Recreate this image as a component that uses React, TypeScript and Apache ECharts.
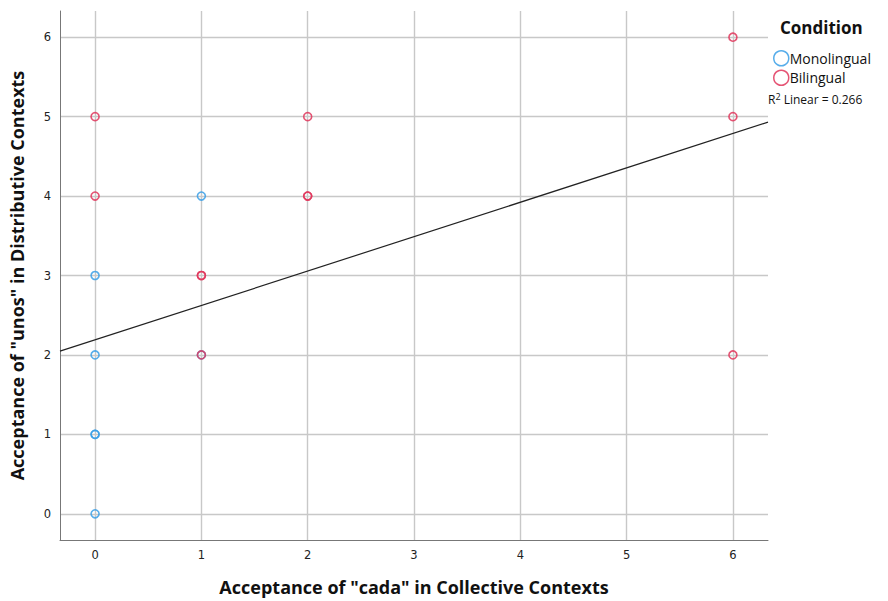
import React, { useEffect, useRef } from "react";
import * as echarts from "echarts";

const monolingual: [number, number][] = [
  [0, 0], [0, 1], [0, 1], [0, 2], [0, 3], [1, 4], [1, 2],
];
const bilingual: [number, number][] = [
  [0, 5], [0, 4], [1, 3], [1, 3], [1, 2], [2, 5], [2, 4], [2, 4], [6, 6], [6, 5], [6, 2],
];
const fitIntercept = 2.19;
const fitSlope = 0.433;
const rSquared = "0.266";
const xMin = -0.33, xMax = 6.33, yMin = -0.33, yMax = 6.33;

const BLUE = "#3a9fe6";
const RED = "#e0365c";
const FONT = "'DejaVu Sans', sans-serif";
const TFONT = "'Open Sans', sans-serif";

export default function App() {
  const ref = useRef<HTMLDivElement>(null);
  useEffect(() => {
    const chart = echarts.init(ref.current!, undefined, { renderer: "svg" });
    const fitLine = [xMin, xMax].map((x) => [x, fitIntercept + fitSlope * x]);
    const axisCommon = {
      type: "value", minInterval: 1, maxInterval: 1,
      nameLocation: "middle",
      nameTextStyle: { fontFamily: TFONT, fontWeight: "bold", fontSize: 18, color: "#111" },
      axisLine: { show: true, onZero: false, lineStyle: { color: "#777", width: 1 } },
      axisTick: { show: false },
      axisLabel: { showMinLabel: false, showMaxLabel: false, margin: 9, fontFamily: FONT, fontSize: 11.5, color: "#222" },
      splitLine: { show: true, showMinLine: false, showMaxLine: false, lineStyle: { color: "#c8c8c8", width: 1.4 } },
    };
    chart.setOption({
      animation: false,
      grid: { left: 60, right: 120, top: 11, bottom: 59 },
      xAxis: {
        ...axisCommon, min: xMin, max: xMax,
        name: 'Acceptance of "cada" in Collective Contexts', nameGap: 38,
      },
      yAxis: {
        ...axisCommon, min: yMin, max: yMax,
        name: 'Acceptance of "unos" in Distributive Contexts', nameGap: 34,
      },
      legend: {
        orient: "vertical", left: 768, top: 45, itemWidth: 15, itemHeight: 15, itemGap: 3,
        icon: "circle",
        textStyle: { fontFamily: TFONT, fontSize: 14, color: "#111", padding: [0, 0, 0, -4] },
        data: [
          { name: "Monolingual", itemStyle: { color: "#fff", borderColor: BLUE, borderWidth: 1.5 } },
          { name: "Bilingual", itemStyle: { color: "#fff", borderColor: RED, borderWidth: 1.5 } },
        ],
      },
      graphic: [
        { type: "text", left: 780, top: 19, style: { text: "Condition", font: `bold 17px ${TFONT}`, fill: "#111" } },
        {
          type: "text", left: 768, top: 92,
          style: {
            text: "R{sup|2} Linear = " + rSquared,
            font: `12px ${TFONT}`, fill: "#111",
            rich: { sup: { fontSize: 9, verticalAlign: "top", padding: [0, 0, 6, 0], fontFamily: TFONT } },
          },
        },
      ],
      series: [
        {
          name: "Fit", type: "line", data: fitLine, showSymbol: false, silent: true,
          lineStyle: { color: "#222", width: 1.2 }, z: 1,
        },
        {
          name: "Monolingual", type: "scatter", data: monolingual, symbol: "circle", symbolSize: 8,
          itemStyle: { color: "rgba(0,0,0,0)", borderColor: BLUE, borderWidth: 1.6, opacity: 0.85 }, z: 3,
        },
        {
          name: "Bilingual", type: "scatter", data: bilingual, symbol: "circle", symbolSize: 8,
          itemStyle: { color: "rgba(0,0,0,0)", borderColor: RED, borderWidth: 1.6, opacity: 0.85 }, z: 3,
        },
      ],
    });
    return () => chart.dispose();
  }, []);
  return <div ref={ref} style={{ width: 888, height: 601, position: "absolute", left: 0, top: 0 }} />;
}
